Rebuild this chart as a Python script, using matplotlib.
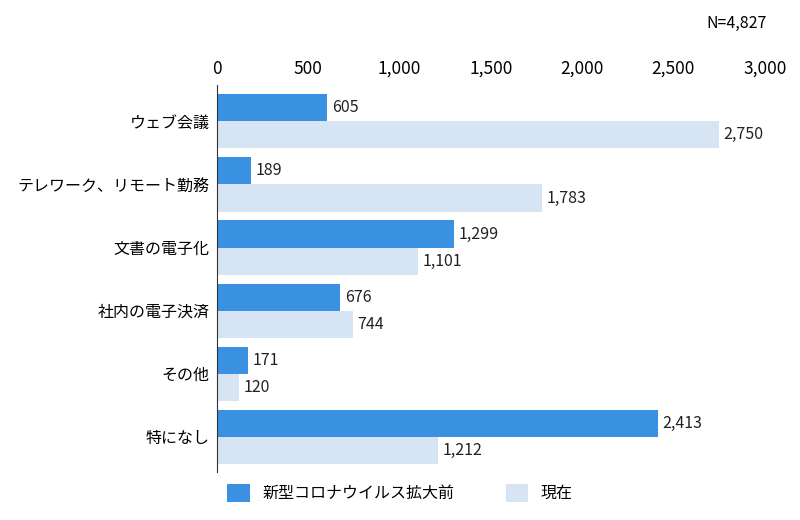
import matplotlib
matplotlib.use("Agg")
import matplotlib.pyplot as plt
import numpy as np

plt.rcParams["font.family"] = "Noto Sans CJK JP"

categories = ["ウェブ会議", "テレワーク、リモート勤務", "文書の電子化", "社内の電子決済", "その他", "特になし"]
before = [605, 189, 1299, 676, 171, 2413]
now = [2750, 1783, 1101, 744, 120, 1212]
series_names = ["新型コロナウイルス拡大前", "現在"]
xticks = [0, 500, 1000, 1500, 2000, 2500, 3000]

c_dark = "#3a91e2"
c_light = "#d6e4f3"

fig = plt.figure(figsize=(8, 5.2), dpi=100)
ax = fig.add_axes([0.271, 0.092, 0.685, 0.745])

y = np.arange(len(categories))
h = 0.43
b1 = ax.barh(y - h / 2, before, height=h, color=c_dark, label=series_names[0])
b2 = ax.barh(y + h / 2, now, height=h, color=c_light, label=series_names[1])

for bars, vals in ((b1, before), (b2, now)):
    for bar, v in zip(bars, vals):
        ax.text(v + 25, bar.get_y() + bar.get_height() / 2, f"{v:,}",
                va="center", ha="left", fontsize=11.5, color="#222222")

ax.set_xlim(0, 3000)
ax.set_ylim(5.56, -0.58)
ax.set_yticks(y)
ax.set_yticklabels(categories, fontsize=11.5)
ax.xaxis.tick_top()
ax.set_xticks(xticks)
ax.set_xticklabels([f"{t:,}" for t in xticks], fontsize=12.5)
ax.tick_params(length=0, pad=5)
for s in ("top", "right", "bottom"):
    ax.spines[s].set_visible(False)
ax.spines["left"].set_color("#333333")

fig.text(0.958, 0.955, "N=4,827", ha="right", va="center", fontsize=11.5)
fig.legend(handles=[b1, b2], loc="center", bbox_to_anchor=(0.5, 0.052), ncol=2,
           frameon=False, fontsize=11.5, handlelength=1.4, handleheight=1.4,
           columnspacing=3.2)

fig.savefig("out.png", dpi=100)
